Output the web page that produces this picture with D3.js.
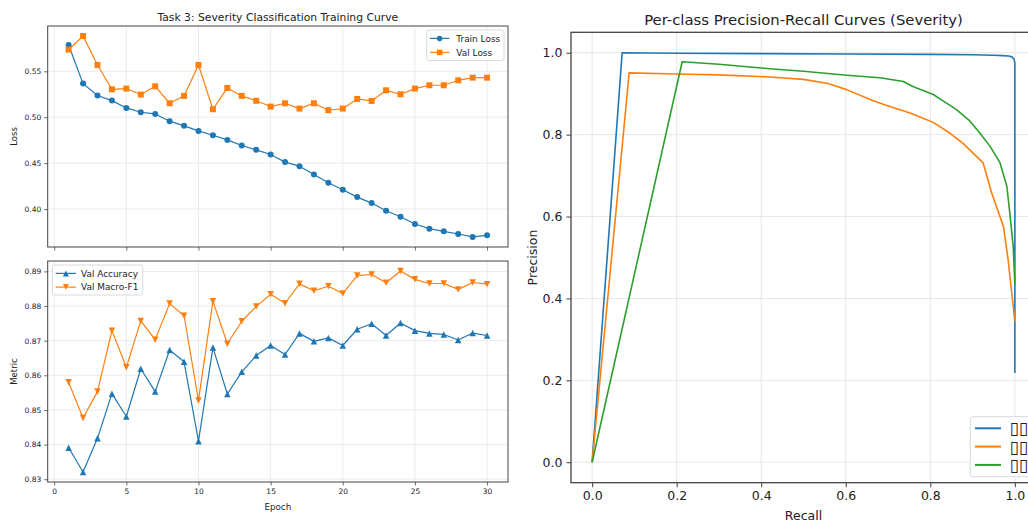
<!DOCTYPE html>
<html><head><meta charset="utf-8">
<script src="https://cdn.jsdelivr.net/npm/d3@7"></script>
<style>
body{margin:0;background:#fff;}
svg{display:block;font-family:"DejaVu Sans",sans-serif;}
</style></head>
<body><svg id="c" width="1028" height="521"></svg>
<script>
// ---------- data ----------
const epochs = d3.range(1, 31);
const trainLoss = [0.5786,0.5366,0.5236,0.5181,0.5101,0.5054,0.5036,0.4957,0.4906,0.4851,0.4804,0.4753,0.4692,0.4645,0.4594,0.4511,0.4467,0.4377,0.4286,0.4210,0.4130,0.4065,0.3981,0.3916,0.3837,0.3786,0.3757,0.3728,0.3696,0.3714];
const valLoss   = [0.5736,0.5884,0.5569,0.5304,0.5312,0.5247,0.5337,0.5152,0.5232,0.5569,0.5087,0.5319,0.5232,0.5179,0.5116,0.5152,0.5094,0.5152,0.5076,0.5094,0.5199,0.5177,0.5293,0.5250,0.5312,0.5348,0.5348,0.5402,0.5431,0.5431];
const valAcc    = [0.8391,0.8321,0.8418,0.8547,0.8481,0.8619,0.8553,0.8673,0.8639,0.8410,0.8680,0.8546,0.8610,0.8657,0.8686,0.8660,0.8721,0.8698,0.8708,0.8686,0.8733,0.8749,0.8715,0.8751,0.8729,0.8721,0.8718,0.8702,0.8722,0.8715];
const valF1     = [0.8580,0.8477,0.8553,0.8729,0.8623,0.8757,0.8703,0.8807,0.8772,0.8527,0.8814,0.8691,0.8756,0.8799,0.8834,0.8808,0.8864,0.8844,0.8857,0.8836,0.8888,0.8891,0.8867,0.8901,0.8877,0.8865,0.8865,0.8848,0.8868,0.8863];
const epochTicks = [0,5,10,15,20,25,30];
const lossTicks = [0.40,0.45,0.50,0.55];
const metricTicks = [0.83,0.84,0.85,0.86,0.87,0.88,0.89];

const prTicks = [0.0,0.2,0.4,0.6,0.8,1.0];
const prClasses = ["▯▯","▯▯","▯▯"];
const prRecall0    = [0,0.071,0.2,0.4,0.6,0.8,0.9,0.95,0.97,0.985,0.993,0.998,1.0,1.0];
const prPrecision0 = [0,1.0,0.999,0.998,0.997,0.996,0.995,0.994,0.993,0.992,0.990,0.984,0.975,0.218];
const prRecall1    = [0,0.0876,0.2,0.3,0.42,0.5,0.558,0.602,0.665,0.697,0.752,0.783,0.807,0.846,0.878,0.925,0.945,0.973,0.984,1.0];
const prPrecision1 = [0,0.951,0.948,0.946,0.941,0.935,0.925,0.910,0.883,0.871,0.853,0.840,0.830,0.804,0.778,0.731,0.658,0.576,0.495,0.344];
const prRecall2    = [0,0.213,0.3,0.42,0.5,0.602,0.681,0.736,0.760,0.807,0.831,0.862,0.894,0.917,0.941,0.965,0.981,0.988,0.996,1.0];
const prPrecision2 = [0,0.978,0.972,0.961,0.955,0.945,0.939,0.930,0.917,0.898,0.882,0.861,0.833,0.804,0.772,0.731,0.674,0.609,0.527,0.434];

const C_BLUE="#1f77b4", C_ORANGE="#ff7f0e", C_GREEN="#2ca02c";
const svg = d3.select("#c");
const SPINE="#444", GRID="#e6e6e6", TXT="#222";

function pad(ext){const s=ext[1]-ext[0];return [ext[0]-0.05*s, ext[1]+0.05*s];}
// scale a text's font so that it spans the given width
function fit(sel, width){
  const fs=+sel.attr("font-size"); const w=sel.node().getComputedTextLength();
  if(w>0) sel.attr("font-size", fs*width/w);
  return sel;
}

function panel(o){
  const g = svg.append("g");
  g.append("g").selectAll("line").data(o.xTicks).join("line")
    .attr("x1",d=>o.x(d)).attr("x2",d=>o.x(d)).attr("y1",o.y.range()[1]).attr("y2",o.y.range()[0])
    .attr("stroke",GRID).attr("stroke-width",o.gw);
  g.append("g").selectAll("line").data(o.yTicks).join("line")
    .attr("y1",d=>o.y(d)).attr("y2",d=>o.y(d)).attr("x1",o.x.range()[0]).attr("x2",o.x.range()[1])
    .attr("stroke",GRID).attr("stroke-width",o.gw);
  const xa = g.append("g").attr("transform",`translate(0,${o.y.range()[0]})`)
    .call(d3.axisBottom(o.x).tickValues(o.xTicks).tickSize(o.tl).tickPadding(o.tp)
      .tickFormat(o.xLabels ? o.xFmt : ()=>""));
  const ya = g.append("g").attr("transform",`translate(${o.x.range()[0]},0)`)
    .call(d3.axisLeft(o.y).tickValues(o.yTicks).tickSize(o.tl).tickPadding(o.tp).tickFormat(o.yFmt));
  [xa,ya].forEach(a=>{
    a.select(".domain").remove();
    a.selectAll(".tick line").attr("stroke",SPINE).attr("stroke-width",o.sw*0.8);
    a.selectAll("text").attr("fill",TXT).attr("font-size",o.fs).attr("font-family","DejaVu Sans");
  });
  g.append("rect").attr("x",o.x.range()[0]).attr("y",o.y.range()[1])
    .attr("width",o.x.range()[1]-o.x.range()[0]).attr("height",o.y.range()[0]-o.y.range()[1])
    .attr("fill","none").attr("stroke",SPINE).attr("stroke-width",o.sw);
  return g;
}

function markerPath(type,s){
  if(type==="circle") return d3.symbol(d3.symbolCircle, s*s*Math.PI/4)();
  if(type==="square") return `M${-s/2},${-s/2}h${s}v${s}h${-s}Z`;
  const h=s*0.5;
  if(type==="up") return `M0,${-h}L${h},${h}L${-h},${h}Z`;
  return `M0,${h}L${h},${-h}L${-h},${-h}Z`;
}

function series(g,x,y,xs,ys,color,marker,lw,ms){
  const line=d3.line().x((d,i)=>x(xs[i])).y(d=>y(d));
  g.append("path").attr("d",line(ys)).attr("fill","none").attr("stroke",color).attr("stroke-width",lw)
    .attr("stroke-linejoin","round");
  g.append("g").selectAll("path").data(ys).join("path")
    .attr("transform",(d,i)=>`translate(${x(xs[i])},${y(d)})`)
    .attr("d",markerPath(marker,ms)).attr("fill",color);
}

function legend(g,L){
  g.append("rect").attr("x",L.x0).attr("y",L.y0).attr("width",L.w).attr("height",L.h).attr("rx",2.5)
    .attr("fill","#fff").attr("fill-opacity",0.85).attr("stroke","#d0d0d0").attr("stroke-width",0.8);
  const texts=[];
  L.items.forEach((it,i)=>{
    const cy=L.firstY+i*L.rowH;
    g.append("line").attr("x1",L.lx).attr("x2",L.lx+L.lineLen).attr("y1",cy).attr("y2",cy)
      .attr("stroke",it.c).attr("stroke-width",L.lw);
    if(L.ms) g.append("path").attr("transform",`translate(${L.lx+L.lineLen/2},${cy})`)
      .attr("d",markerPath(it.m,L.ms)).attr("fill",it.c);
    texts.push(g.append("text").attr("x",L.tx).attr("y",cy).attr("dy","0.36em")
      .attr("font-size",L.fs).attr("fill",TXT).text(it.t));
  });
  return texts;
}

// ---------- top-left: loss ----------
const xE = d3.scaleLinear().domain(pad([1,30])).range([47.7,508]);
const yL = d3.scaleLinear().domain(pad(d3.extent(trainLoss.concat(valLoss)))).range([247,26]);
const gTop = panel({x:xE,y:yL,xTicks:epochTicks,yTicks:lossTicks,xLabels:false,yFmt:d3.format(".2f"),
  tl:3.5,tp:3,fs:7.5,sw:1,gw:0.8});
series(gTop,xE,yL,epochs,trainLoss,C_BLUE,"circle",1.2,6);
series(gTop,xE,yL,epochs,valLoss,C_ORANGE,"square",1.2,6);
const lt = legend(gTop,{x0:426.7,y0:30,w:77.3,h:30.5,items:[{t:"Train Loss",c:C_BLUE,m:"circle"},{t:"Val Loss",c:C_ORANGE,m:"square"}],
  fs:8.8,lx:430,lineLen:19.3,tx:456.3,rowH:14,firstY:38.4,ms:5.5,lw:1.2});
fit(lt[0],44);
lt[1].attr("font-size",lt[0].attr("font-size"));
fit(svg.append("text").attr("x",(47.7+508)/2).attr("y",20.8).attr("text-anchor","middle")
  .attr("font-size",11).attr("fill",TXT).text("Task 3: Severity Classification Training Curve"),241);
svg.append("text").attr("transform",`translate(16.5,${(26+247)/2}) rotate(-90)`).attr("text-anchor","middle")
  .attr("font-size",8.5).attr("fill",TXT).text("Loss");

// ---------- bottom-left: metrics ----------
const yM = d3.scaleLinear().domain(pad(d3.extent(valAcc.concat(valF1)))).range([482,261]);
const gBot = panel({x:xE,y:yM,xTicks:epochTicks,yTicks:metricTicks,xLabels:true,xFmt:d3.format("d"),yFmt:d3.format(".2f"),
  tl:3.5,tp:3,fs:7.5,sw:1,gw:0.8});
series(gBot,xE,yM,epochs,valAcc,C_BLUE,"up",1.2,6.5);
series(gBot,xE,yM,epochs,valF1,C_ORANGE,"down",1.2,6.5);
const lb = legend(gBot,{x0:52.3,y0:265,w:90.4,h:30,items:[{t:"Val Accuracy",c:C_BLUE,m:"up"},{t:"Val Macro-F1",c:C_ORANGE,m:"down"}],
  fs:8.8,lx:55.7,lineLen:20.3,tx:81,rowH:13.7,firstY:273.4,ms:6,lw:1.2});
fit(lb[0],57);
lb[1].attr("font-size",lb[0].attr("font-size"));
fit(svg.append("text").attr("x",(47.7+508)/2).attr("y",509.5).attr("text-anchor","middle")
  .attr("font-size",8.5).attr("fill",TXT).text("Epoch"),26.7);
svg.append("text").attr("transform",`translate(16.5,${(261+482)/2}) rotate(-90)`).attr("text-anchor","middle")
  .attr("font-size",8.5).attr("fill",TXT).text("Metric");

// ---------- right: PR curves ----------
const xR = d3.scaleLinear().domain([-0.05,1.05]).range([571,1036]);
const yR = d3.scaleLinear().domain([-0.05,1.05]).range([482.7,32.3]);
const gPR = panel({x:xR,y:yR,xTicks:prTicks,yTicks:prTicks,xLabels:true,xFmt:d3.format(".1f"),yFmt:d3.format(".1f"),
  tl:4.5,tp:4,fs:12.5,sw:1.3,gw:1});
const prData = [[prRecall0,prPrecision0,C_BLUE],[prRecall1,prPrecision1,C_ORANGE],[prRecall2,prPrecision2,C_GREEN]];
prData.forEach(([r,p,c])=>{
  gPR.append("path").attr("d",d3.line().x((d,i)=>xR(r[i])).y(d=>yR(d))(p))
    .attr("fill","none").attr("stroke",c).attr("stroke-width",1.6).attr("stroke-linejoin","round");
});
legend(gPR,{x0:970.3,y0:416.7,w:70,h:60,items:prClasses.map((t,i)=>({t:t,c:prData[i][2]})),
  fs:17,lx:975,lineLen:26,tx:1009.5,rowH:18.3,firstY:428.3,ms:0,lw:2});
fit(svg.append("text").attr("x",(571+1036)/2).attr("y",25.3).attr("text-anchor","middle")
  .attr("font-size",14).attr("fill",TXT).text("Per-class Precision-Recall Curves (Severity)"),319);
svg.append("text").attr("x",(571+1036)/2).attr("y",519.5).attr("text-anchor","middle")
  .attr("font-size",12.5).attr("fill",TXT).text("Recall");
svg.append("text").attr("transform",`translate(536.5,${(32.3+482.7)/2}) rotate(-90)`).attr("text-anchor","middle")
  .attr("font-size",12.5).attr("fill",TXT).text("Precision");
</script></body></html>
